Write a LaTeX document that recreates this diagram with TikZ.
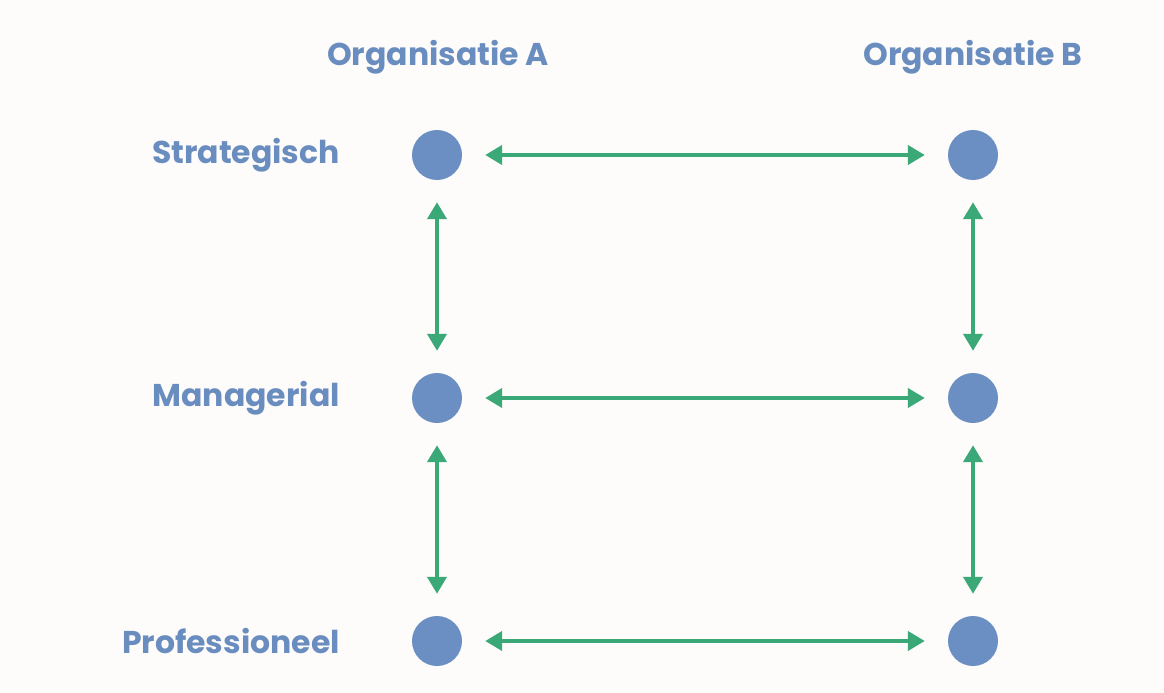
\documentclass[tikz,border=0pt]{standalone}
\usepackage{fontspec}
\setmainfont{Poppins}
\usetikzlibrary{arrows.meta}
\definecolor{bg}{HTML}{FDFCFA}
\definecolor{dotblue}{HTML}{6B8FC2}
\definecolor{txtblue}{HTML}{6A8DC0}
\definecolor{arrgreen}{HTML}{3BA877}
\tikzset{
  dot/.style={circle,fill=dotblue,minimum size=50pt,inner sep=0pt},
  head/.style={font=\fontsize{31.5}{36}\selectfont\bfseries,text=txtblue,inner sep=0pt},
  rowlabel/.style={font=\fontsize{31.5}{36}\selectfont\bfseries,text=txtblue,inner sep=0pt,anchor=east},
  link/.style={draw=arrgreen,line width=4pt,{Triangle[length=17pt,width=19pt]}-{Triangle[length=17pt,width=19pt]},shorten <=-1pt,shorten >=-1pt}
}
\begin{document}
\begin{tikzpicture}[x=1pt,y=-1pt]
\fill[bg] (0,0) rectangle (1164,693);
\useasboundingbox (0,0) rectangle (1164,693);
\node[head] (ha) at (438,57) {Organisatie A};
\node[head] (hb) at (973,57) {Organisatie B};
\node[rowlabel] (ls) at (340,155) {Strategisch};
\node[rowlabel] (lm) at (340,398) {Managerial};
\node[rowlabel] (lp) at (340,641) {Professioneel};
\node[dot] (a1) at (437,155) {};
\node[dot] (a2) at (437,398) {};
\node[dot] (a3) at (437,641) {};
\node[dot] (b1) at (973,155) {};
\node[dot] (b2) at (973,398) {};
\node[dot] (b3) at (973,641) {};
\path[link] ([xshift=24pt]a1.east) -- ([xshift=-24pt]b1.west);
\path[link] ([xshift=24pt]a2.east) -- ([xshift=-24pt]b2.west);
\path[link] ([xshift=24pt]a3.east) -- ([xshift=-24pt]b3.west);
\path[link] ([yshift=-23pt]a1.south) -- ([yshift=23pt]a2.north);
\path[link] ([yshift=-23pt]a2.south) -- ([yshift=23pt]a3.north);
\path[link] ([yshift=-23pt]b1.south) -- ([yshift=23pt]b2.north);
\path[link] ([yshift=-23pt]b2.south) -- ([yshift=23pt]b3.north);
\end{tikzpicture}
\end{document}
